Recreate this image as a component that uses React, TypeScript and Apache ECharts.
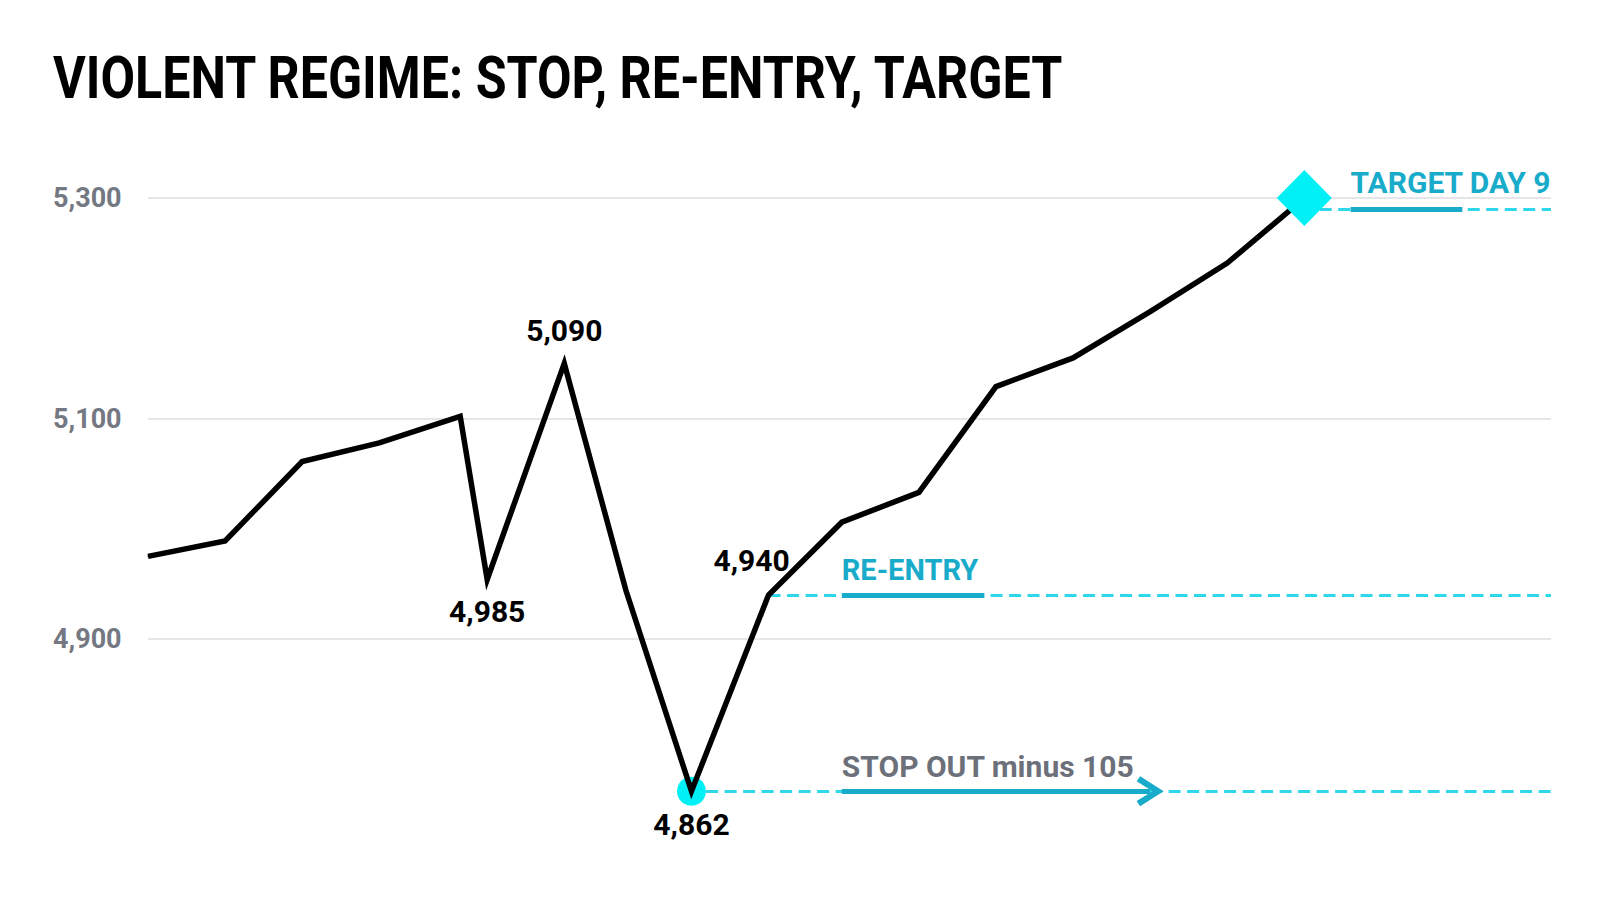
import React, { useEffect, useRef } from 'react';
import * as echarts from 'echarts';

// trading days from the first bar (intraday swings sit between whole days)
const DAYS = [0, 1, 2, 3, 4.05, 4.4, 5.4, 6.2, 7.05, 8.05, 9, 10, 11, 12, 13, 14, 15];
const PRICES = [4975, 4989, 5061, 5078, 5102, 4954, 5150, 4944, 4762, 4940, 5006, 5033, 5129, 5155, 5197, 5241, 5300];

// point callouts: index into DAYS / PRICES and the printed text
const CALLOUT_INDEX = [5, 6, 8, 9];
const CALLOUT_TEXT = ['4,985', '5,090', '4,862', '4,940'];

const STOP_INDEX = 8;
const TARGET_INDEX = 16;

// horizontal levels
const STOP_LEVEL = 4762;
const REENTRY_LEVEL = 4940;
const TARGET_LEVEL = 5290;

const STOP_TEXT = 'STOP OUT minus 105';
const REENTRY_TEXT = 'RE-ENTRY';
const TARGET_TEXT = 'TARGET DAY 9';
const TITLE = 'VIOLENT REGIME: STOP, RE-ENTRY, TARGET';

const X_MAX = 18.2;
const Y_MIN = 4700;
const Y_MAX = 5340;
const Y_STEP = 200;

const FONT = 'Roboto';
const BRIGHT = '#00f0f5';
const DASH = '#2ed8ea';
const TEAL = '#19abca';
const GRAY = '#6c707a';

// open arrow head, drawn pointing up; markLine turns it along the line
const chevron = 'path://M0,20 L13,0 L26,20 L21.5,23 L13,9.5 L4.5,23 Z';

const App: React.FC = () => {
  const chartRef = useRef<HTMLDivElement>(null);

  useEffect(() => {
    if (!chartRef.current) return;
    const chart = echarts.init(chartRef.current, undefined, { renderer: 'svg' });

    const calloutPlacement: Record<number, any> = {
      5: { position: 'bottom', distance: 16 },
      6: { position: 'top', distance: 17 },
      8: { position: 'bottom', distance: 18 },
      9: { position: 'top', distance: 19, offset: [-17, 0] }
    };

    const lineData = DAYS.map((d, i) => {
      const k = CALLOUT_INDEX.indexOf(i);
      if (k < 0) return { value: [d, PRICES[i]] };
      return {
        value: [d, PRICES[i]],
        label: { show: true, formatter: CALLOUT_TEXT[k], ...calloutPlacement[i] }
      };
    });

    const dashed = { color: DASH, width: 3, type: [12, 6.5] };
    const solid = { color: TEAL, width: 5, type: 'solid' };
    const levelLabel = (text: string, color: string, size: number, gap = 10) => ({
      show: true,
      formatter: text,
      position: 'insideStartTop',
      distance: [0, gap],
      color,
      fontSize: size,
      fontWeight: 'bold',
      fontFamily: FONT
    });
    const noLabel = { show: false };

    const option = {
      animation: false,
      grid: { left: 148, right: 49, top: 154, bottom: 54.5 },
      xAxis: { type: 'value', min: 0, max: X_MAX, show: false },
      yAxis: {
        type: 'value',
        min: Y_MIN,
        max: Y_MAX,
        interval: Y_STEP,
        axisLine: { show: false },
        axisTick: { show: false },
        splitLine: {
          show: true,
          showMinLine: false,
          showMaxLine: false,
          lineStyle: { color: '#e6e6e8', width: 2 }
        },
        axisLabel: {
          showMinLabel: false,
          showMaxLabel: false,
          formatter: (v: number) => v.toLocaleString('en-US'),
          align: 'left',
          margin: 95,
          color: '#747882',
          fontSize: 27,
          fontWeight: 'bold',
          fontFamily: FONT
        }
      },
      graphic: [
        {
          type: 'text',
          x: 53,
          y: 48,
          scaleX: 0.837,
          style: {
            text: TITLE,
            fill: '#000',
            font: `bold 60px ${FONT}`,
            align: 'left',
            verticalAlign: 'top'
          }
        }
      ],
      series: [
        {
          name: 'levels',
          type: 'line',
          data: DAYS.map((d, i) => [d, PRICES[i]]),
          symbol: 'none',
          lineStyle: { width: 0, opacity: 0 },
          z: 1,
          markLine: {
            silent: true,
            z: 1,
            symbol: ['none', 'none'],
            data: [
              [
                { coord: [8.05, REENTRY_LEVEL], lineStyle: dashed, label: noLabel },
                { coord: [X_MAX, REENTRY_LEVEL] }
              ],
              [
                { coord: [9, REENTRY_LEVEL], lineStyle: solid, label: levelLabel(REENTRY_TEXT, TEAL, 29) },
                { coord: [10.85, REENTRY_LEVEL] }
              ],
              [
                { coord: [7.24, STOP_LEVEL], lineStyle: dashed, label: noLabel },
                { coord: [X_MAX, STOP_LEVEL] }
              ],
              [
                { coord: [9, STOP_LEVEL], lineStyle: solid, label: levelLabel(STOP_TEXT, GRAY, 30) },
                { coord: [13, STOP_LEVEL], symbol: chevron, symbolSize: [30, 27] }
              ],
              [
                { coord: [15.2, TARGET_LEVEL], lineStyle: dashed, label: noLabel },
                { coord: [X_MAX, TARGET_LEVEL] }
              ],
              [
                { coord: [15.6, TARGET_LEVEL], lineStyle: solid, label: levelLabel(TARGET_TEXT, TEAL, 30, 12) },
                { coord: [17.05, TARGET_LEVEL] }
              ]
            ]
          }
        },
        {
          name: 'stop',
          type: 'scatter',
          data: [[DAYS[STOP_INDEX], PRICES[STOP_INDEX]]],
          symbol: 'circle',
          symbolSize: 29,
          itemStyle: { color: BRIGHT, opacity: 1 },
          z: 3
        },
        {
          name: 'price',
          type: 'line',
          data: lineData,
          symbol: 'circle',
          symbolSize: 1,
          showSymbol: true,
          itemStyle: { color: '#000' },
          lineStyle: { color: '#000', width: 5.5, join: 'miter' },
          label: {
            color: '#000',
            fontSize: 30,
            fontWeight: 'bold',
            fontFamily: FONT
          },
          z: 4
        },
        {
          name: 'target',
          type: 'scatter',
          data: [[DAYS[TARGET_INDEX], PRICES[TARGET_INDEX]]],
          symbol: 'diamond',
          symbolSize: [55, 56],
          itemStyle: { color: BRIGHT, opacity: 1 },
          z: 5
        }
      ]
    };

    chart.setOption(option as any);

    return () => {
      chart.dispose();
    };
  }, []);

  return (
    <div
      ref={chartRef}
      style={{ position: 'fixed', left: 0, top: 0, width: 1600, height: 914, background: '#fff' }}
    />
  );
};

export default App;
